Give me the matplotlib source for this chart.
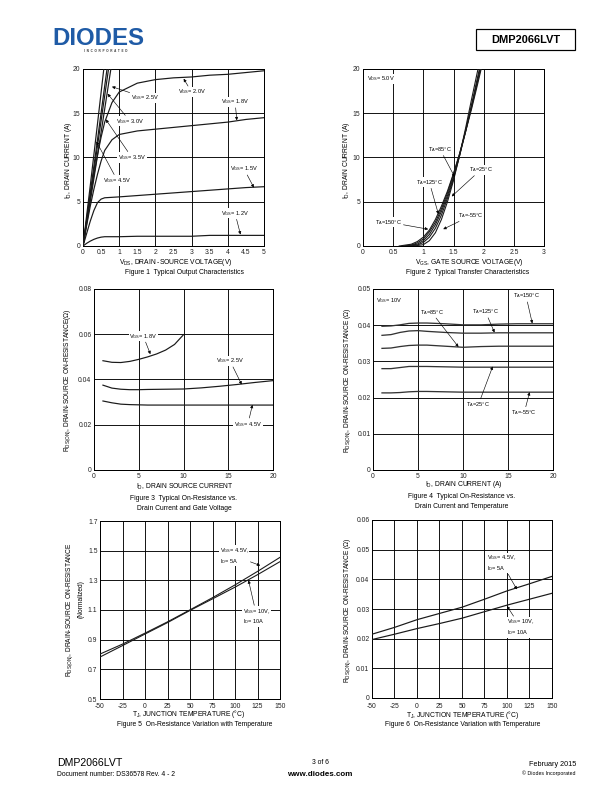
import matplotlib
matplotlib.use('Agg')
import matplotlib.pyplot as plt
from matplotlib.patches import Rectangle

plt.rcParams['font.family'] = ['Liberation Sans', 'DejaVu Sans']
plt.rcParams['mathtext.fontset'] = 'custom'
plt.rcParams['mathtext.rm'] = 'Liberation Sans'
plt.rcParams['mathtext.it'] = 'Liberation Sans'
plt.rcParams['mathtext.bf'] = 'Liberation Sans:bold'
plt.rcParams['mathtext.default'] = 'regular'

# ---------------- DATA ----------------
# Figure 1: output characteristics
vds_sat = [0, 0.1, 0.2, 0.3, 0.4, 0.5, 0.6, 0.8, 1.0, 1.5, 2.0, 2.5, 3.0, 3.5, 4.0, 4.5, 5.0]
id_vgs_1v2 = [0, 0.3, 0.55, 0.75, 0.9, 1.0, 1.05, 1.05, 1.05, 1.1, 1.1, 1.1, 1.1, 1.2, 1.2, 1.2, 1.2]
id_vgs_1v5 = [0, 1.4, 2.8, 4.0, 4.9, 5.3, 5.45, 5.5, 5.55, 5.7, 5.85, 6.0, 6.15, 6.3, 6.45, 6.6, 6.7]
id_vgs_1v8 = [0, 2.3, 4.5, 6.4, 8.1, 9.6, 10.8, 12.0, 12.6, 13.0, 13.2, 13.4, 13.6, 13.8, 14.0, 14.3, 14.5]
id_vgs_2v0 = [0, 2.8, 5.5, 8.0, 10.3, 12.3, 14.0, 16.2, 17.4, 18.4, 18.8, 19.0, 19.1, 19.3, 19.4, 19.6, 19.8]
vds_lin = [0, 0.2, 0.4, 0.6, 0.8]
id_vgs_2v5 = [0, 5.0, 10.2, 15.5, 20.8]
id_vgs_3v0 = [0, 5.6, 11.3, 17.0, 22.7]
id_vgs_3v5 = [0, 6.0, 12.0, 18.1, 24.1]
id_vgs_4v5 = [0, 6.8, 13.8, 20.9, 28.0]

# Figure 2: transfer characteristics
vgs_m55 = [0.85, 1.0, 1.1, 1.2, 1.3, 1.4, 1.5, 1.6, 1.7, 1.8, 1.9, 1.95]
id_m55 = [0, 0.15, 0.6, 1.5, 3.0, 5.0, 7.4, 10.2, 13.3, 16.6, 19.8, 21.5]
vgs_25 = [0.75, 0.9, 1.0, 1.1, 1.2, 1.3, 1.4, 1.5, 1.6, 1.7, 1.8, 1.9, 2.0]
id_25 = [0, 0.1, 0.4, 1.0, 2.0, 3.5, 5.4, 7.6, 10.2, 13.0, 16.0, 19.1, 22.2]
vgs_85 = [0.7, 0.9, 1.0, 1.1, 1.2, 1.3, 1.4, 1.5, 1.6, 1.7, 1.8, 1.9, 2.0]
id_85 = [0, 0.2, 0.6, 1.3, 2.4, 3.9, 5.7, 7.8, 10.2, 12.9, 15.8, 18.8, 21.8]
vgs_125 = [0.65, 0.8, 0.9, 1.0, 1.1, 1.2, 1.3, 1.4, 1.5, 1.6, 1.7, 1.8, 1.9, 2.0]
id_125 = [0, 0.1, 0.35, 0.8, 1.6, 2.7, 4.2, 6.0, 8.1, 10.4, 13.0, 15.7, 18.6, 21.5]
vgs_150 = [0.6, 0.8, 0.9, 1.0, 1.1, 1.2, 1.3, 1.4, 1.5, 1.6, 1.7, 1.8, 1.9, 2.0, 2.05]
id_150 = [0, 0.2, 0.5, 1.0, 1.8, 3.0, 4.5, 6.2, 8.2, 10.4, 12.9, 15.5, 18.3, 21.2, 22.7]

# Figure 3: on-resistance vs drain current and gate voltage
id3_18 = [1, 2, 3, 4, 5, 6, 7, 8, 9, 10]
rds_18 = [0.0483, 0.0476, 0.0475, 0.0480, 0.0489, 0.0500, 0.0513, 0.0530, 0.0555, 0.0598]
id3 = [1, 2, 3, 4, 5, 6, 8, 10, 12, 14, 16, 18, 20]
rds_25 = [0.0375, 0.0362, 0.0357, 0.0355, 0.0355, 0.0356, 0.0357, 0.0358, 0.0363, 0.0370, 0.0378, 0.0387, 0.0395]
rds_45 = [0.0305, 0.0297, 0.0291, 0.0289, 0.0288, 0.0287, 0.0287, 0.0287, 0.0287, 0.0287, 0.0287, 0.0287, 0.0287]

# Figure 4: on-resistance vs drain current and temperature
id4 = [1, 2, 3, 4, 5, 6, 8, 10, 12, 14, 16, 18, 20]
r4_150 = [0.0397, 0.0398, 0.0401, 0.0405, 0.0406, 0.0406, 0.0404, 0.0401, 0.0401, 0.0403, 0.0404, 0.0404, 0.0404]
r4_125 = [0.0372, 0.0374, 0.0380, 0.0384, 0.0385, 0.0383, 0.0380, 0.0378, 0.0378, 0.0379, 0.0379, 0.0379, 0.0379]
r4_85 = [0.0336, 0.0337, 0.0341, 0.0344, 0.0345, 0.0345, 0.0342, 0.0339, 0.0341, 0.0342, 0.0342, 0.0342, 0.0342]
r4_25 = [0.0280, 0.0280, 0.0283, 0.0286, 0.0286, 0.0286, 0.0285, 0.0284, 0.0284, 0.0284, 0.0284, 0.0284, 0.0284]
r4_m55 = [0.0213, 0.0213, 0.0214, 0.0216, 0.0217, 0.0217, 0.0216, 0.0215, 0.0215, 0.0215, 0.0215, 0.0215, 0.0215]

# Figure 5 / 6: vs junction temperature
tj = [-50, -25, 0, 25, 50, 75, 100, 125, 150]
rn_45 = [0.803, 0.870, 0.944, 1.020, 1.101, 1.183, 1.269, 1.360, 1.455]
rn_10 = [0.783, 0.860, 0.938, 1.015, 1.097, 1.175, 1.254, 1.338, 1.426]
r6_45 = [0.0215, 0.0238, 0.0264, 0.0285, 0.0306, 0.0333, 0.0361, 0.0385, 0.0410]
r6_10 = [0.0197, 0.0215, 0.0234, 0.0251, 0.0269, 0.0291, 0.0313, 0.0333, 0.0353]

# Tick labels
f1_xt = [0, 0.5, 1, 1.5, 2, 2.5, 3, 3.5, 4, 4.5, 5]
f1_xl = ['0', '0.5', '1', '1.5', '2', '2.5', '3', '3.5', '4', '4.5', '5']
f1_yt = [0, 5, 10, 15, 20]
f2_xt = [0, 0.5, 1, 1.5, 2, 2.5, 3]
f2_xl = ['0', '0.5', '1', '1.5', '2', '2.5', '3']
f3_xt = [0, 5, 10, 15, 20]
f3_yt = [0, 0.02, 0.04, 0.06, 0.08]
f3_yl = ['0', '0.02', '0.04', '0.06', '0.08']
f4_yt = [0, 0.01, 0.02, 0.03, 0.04, 0.05]
f4_yl = ['0', '0.01', '0.02', '0.03', '0.04', '0.05']
f5_xt = [-50, -25, 0, 25, 50, 75, 100, 125, 150]
f5_yt = [0.5, 0.7, 0.9, 1.1, 1.3, 1.5, 1.7]
f5_yl = ['0.5', '0.7', '0.9', '1.1', '1.3', '1.5', '1.7']
f6_yt = [0, 0.01, 0.02, 0.03, 0.04, 0.05, 0.06]
f6_yl = ['0', '0.01', '0.02', '0.03', '0.04', '0.05', '0.06']

# ---------------- FIGURE ----------------
W, H = 612, 792
fig = plt.figure(figsize=(W / 72, H / 72), dpi=72)

LC = '#1a1a1a'
TS = 6.8   # tick size
AS = 5.6   # annotation size


def fx(x):
    return x / W


def fy(y):
    return 1 - y / H


def make_ax(l, t, r, b, xlim, ylim, xt, xl, yt, yl, gx, gy, xpad=2.5):
    ax = fig.add_axes([l / W, 1 - b / H, (r - l) / W, (b - t) / H])
    ax.set_xlim(*xlim)
    ax.set_ylim(*ylim)
    ax.set_xticks(xt)
    ax.set_xticklabels(xl)
    ax.set_yticks(yt)
    ax.set_yticklabels(yl)
    ax.tick_params(length=0, labelsize=TS, pad=2.5, colors='#222222')
    ax.tick_params(axis='x', pad=xpad)
    for g in gx:
        ax.axvline(g, color='black', lw=0.9, zorder=1)
    for g in gy:
        ax.axhline(g, color='black', lw=0.9, zorder=1)
    for s in ax.spines.values():
        s.set_linewidth(1.0)
        s.set_color('black')
    return ax


def ann(ax, txt, xytext, xy, ha='center'):
    ax.annotate(txt, xy=xy, xytext=xytext, fontsize=AS, ha=ha, va='center',
                zorder=5, linespacing=1.3,
                bbox=dict(fc='white', ec='none', pad=0.6),
                arrowprops=dict(arrowstyle='-|>', color='black', lw=0.6,
                                mutation_scale=6, shrinkA=1, shrinkB=0))


def txt(x, y, s, **kw):
    fig.text(fx(x), fy(y), s, **kw)


# ---- Figure 1
ax1 = make_ax(83, 69, 264, 246, (0, 5), (0, 20), f1_xt, f1_xl, f1_yt,
              [str(v) for v in f1_yt], [1, 2, 3, 4], [5, 10, 15])
for y in [id_vgs_1v2, id_vgs_1v5, id_vgs_1v8, id_vgs_2v0]:
    ax1.plot(vds_sat, y, color=LC, lw=1.2, zorder=3)
for y in [id_vgs_2v5, id_vgs_3v0, id_vgs_3v5, id_vgs_4v5]:
    ax1.plot(vds_lin, y, color=LC, lw=1.2, zorder=3)
ann(ax1, 'V$_{GS}$= 2.5V', (1.72, 16.75), (0.80, 18.0))
ann(ax1, 'V$_{GS}$= 3.0V', (1.30, 14.1), (0.68, 17.2))
ann(ax1, 'V$_{GS}$= 3.5V', (1.35, 10.0), (0.63, 14.3))
ann(ax1, 'V$_{GS}$= 4.5V', (0.95, 7.4), (0.37, 11.8))
ann(ax1, 'V$_{GS}$= 2.0V', (3.0, 17.4), (2.78, 18.9))
ann(ax1, 'V$_{GS}$= 1.8V', (4.2, 16.3), (4.25, 14.2))
ann(ax1, 'V$_{GS}$= 1.5V', (4.45, 8.7), (4.72, 6.6))
ann(ax1, 'V$_{GS}$= 1.2V', (4.2, 3.7), (4.35, 1.3))
txt(68, 160, 'I$_D$, DRAIN CURRENT (A)', rotation=90, fontsize=6.8,
    ha='center', va='center')
txt(176, 263, 'V$_{DS}$, DRAIN -SOURCE VOLTAGE(V)', fontsize=6.8, ha='center', va='center')
txt(184, 273, 'Figure 1  Typical Output Characteristics', fontsize=6.8, ha='center', va='center')

# ---- Figure 2
ax2 = make_ax(363, 69, 544, 246, (0, 3), (0, 20), f2_xt, f2_xl, f1_yt,
              [str(v) for v in f1_yt], [0.5, 1, 1.5, 2, 2.5], [5, 10, 15])
for vx, iy in [(vgs_m55, id_m55), (vgs_25, id_25), (vgs_85, id_85),
               (vgs_125, id_125), (vgs_150, id_150)]:
    ax2.plot(vx, iy, color=LC, lw=1.1, zorder=3)
ax2.text(0.07, 18.9, 'V$_{DS}$= 5.0V', fontsize=AS, ha='left', va='center', zorder=5,
         bbox=dict(fc='white', ec='none', pad=0.6))
ann(ax2, 'T$_A$=85°C', (1.28, 10.9), (1.52, 7.8))
ann(ax2, 'T$_A$=25°C', (1.95, 8.6), (1.47, 5.6))
ann(ax2, 'T$_A$=125°C', (1.10, 7.2), (1.25, 3.6))
ann(ax2, 'T$_A$=150°C', (0.42, 2.7), (1.08, 1.9))
ann(ax2, 'T$_A$=-55°C', (1.78, 3.4), (1.33, 1.9))
txt(347, 160, 'I$_D$, DRAIN CURRENT (A)', rotation=90, fontsize=6.8,
    ha='center', va='center')
txt(469, 263, 'V$_{GS}$, GATE SOURCE VOLTAGE(V)', fontsize=6.8, ha='center', va='center')
txt(468, 273, 'Figure 2  Typical Transfer Characteristics', fontsize=6.8, ha='center', va='center')

# ---- Figure 3
ax3 = make_ax(94, 289, 273, 470, (0, 20), (0, 0.08), f3_xt,
              [str(v) for v in f3_xt], f3_yt, f3_yl, [5, 10, 15], [0.02, 0.04, 0.06])
ax3.plot(id3_18, rds_18, color=LC, lw=1.2, zorder=3)
ax3.plot(id3, rds_25, color=LC, lw=1.2, zorder=3)
ax3.plot(id3, rds_45, color=LC, lw=1.2, zorder=3)
ann(ax3, 'V$_{GS}$= 1.8V', (5.5, 0.0592), (6.3, 0.0512))
ann(ax3, 'V$_{GS}$= 2.5V', (15.2, 0.0482), (16.5, 0.0378))
ann(ax3, 'V$_{GS}$= 4.5V', (17.2, 0.0203), (17.7, 0.0288))
txt(68, 380, 'R$_{DS(ON)}$, DRAIN-SOURCE ON-RESISTANCE(Ω)', rotation=90, fontsize=6.6,
    ha='center', va='center')
txt(185, 487, 'I$_D$, DRAIN SOURCE CURRENT', fontsize=6.8, ha='center', va='center')
txt(184, 498, 'Figure 3  Typical On-Resistance vs.', fontsize=6.8, ha='center', va='center')
txt(184, 508, 'Drain Current and Gate Voltage', fontsize=6.8, ha='center', va='center')

# ---- Figure 4
ax4 = make_ax(373, 289, 553, 470, (0, 20), (0, 0.05), f3_xt,
              [str(v) for v in f3_xt], f4_yt, f4_yl, [5, 10, 15],
              [0.01, 0.02, 0.03, 0.04])
for r in [r4_150, r4_125, r4_85, r4_25, r4_m55]:
    ax4.plot(id4, r, color='#333333', lw=1.3, zorder=3)
ax4.text(0.35, 0.0468, 'V$_{GS}$= 10V', fontsize=AS, ha='left', va='center', zorder=5,
         bbox=dict(fc='white', ec='none', pad=0.6))
ann(ax4, 'T$_A$=85°C', (6.5, 0.0436), (9.5, 0.0340))
ann(ax4, 'T$_A$=125°C', (12.5, 0.0437), (13.5, 0.0380))
ann(ax4, 'T$_A$=150°C', (17.0, 0.0481), (17.7, 0.0405))
ann(ax4, 'T$_A$=25°C', (11.7, 0.0180), (13.3, 0.0286))
ann(ax4, 'T$_A$=-55°C', (16.8, 0.0158), (17.4, 0.0215))
txt(348, 380, 'R$_{DS(ON)}$, DRAIN-SOURCE ON-RESISTANCE (Ω)', rotation=90, fontsize=6.6,
    ha='center', va='center')
txt(464, 484, 'I$_D$, DRAIN CURRENT (A)', fontsize=6.8, ha='center', va='center')
txt(462, 496, 'Figure 4  Typical On-Resistance vs.', fontsize=6.8, ha='center', va='center')
txt(462, 507, 'Drain Current and Temperature', fontsize=6.8, ha='center', va='center')

# ---- Figure 5
ax5 = make_ax(100, 521, 280, 699, (-50, 150), (0.5, 1.7), f5_xt,
              [str(v) for v in f5_xt], f5_yt, f5_yl,
              [-25, 0, 25, 50, 75, 100, 125], [0.7, 0.9, 1.1, 1.3, 1.5], xpad=3.5)
ax5.plot(tj, rn_45, color=LC, lw=1.1, zorder=3)
ax5.plot(tj, rn_10, color=LC, lw=1.1, zorder=3)
ann(ax5, 'V$_{GS}$= 4.5V,\nI$_D$= 5A', (83, 1.465), (128, 1.40), ha='left')
ann(ax5, 'V$_{GS}$= 10V,\nI$_D$= 10A', (109, 1.055), (115, 1.30), ha='left')
txt(70, 610, 'R$_{DS(ON)}$, DRAIN-SOURCE ON-RESISTANCE', rotation=90, fontsize=6.6,
    ha='center', va='center')
txt(81, 599, '(Normalized)', rotation=90, fontsize=6.6, ha='center', va='center')
txt(189, 714, 'T$_J$, JUNCTION TEMPERATURE (°C)', fontsize=6.8, ha='center', va='center')
txt(195, 724, 'Figure 5  On-Resistance Variation with Temperature', fontsize=6.8,
    ha='center', va='center')

# ---- Figure 6
ax6 = make_ax(372, 520, 552, 698, (-50, 150), (0, 0.06), f5_xt,
              [str(v) for v in f5_xt], f6_yt, f6_yl,
              [-25, 0, 25, 50, 75, 100, 125], [0.01, 0.02, 0.03, 0.04, 0.05], xpad=4.5)
ax6.plot(tj, r6_45, color=LC, lw=1.2, zorder=3)
ax6.plot(tj, r6_10, color=LC, lw=1.2, zorder=3)
ann(ax6, 'V$_{GS}$= 4.5V,\nI$_D$= 5A', (78, 0.0455), (111, 0.0366), ha='left')
ann(ax6, 'V$_{GS}$= 10V,\nI$_D$= 10A', (100, 0.0238), (100, 0.0310), ha='left')
txt(348, 610, 'R$_{DS(ON)}$, DRAIN-SOURCE ON-RESISTANCE (Ω)', rotation=90, fontsize=6.6,
    ha='center', va='center')
txt(463, 715, 'T$_J$, JUNCTION TEMPERATURE (°C)', fontsize=6.8, ha='center', va='center')
txt(463, 725, 'Figure 6  On-Resistance Variation with Temperature', fontsize=6.8,
    ha='center', va='center')

# ---- Header
txt(52, 45, 'DIODES', fontsize=24, fontweight='bold', color='#1f5ba6',
    ha='left', va='baseline')
txt(106, 50.5, 'I  N  C  O  R  P  O  R  A  T  E  D', fontsize=3.0, color='#333333',
    ha='center', va='center', fontweight='bold')
fig.patches.append(Rectangle((fx(476), fy(50)), (575 - 476) / W, 21 / H,
                             transform=fig.transFigure, fill=False, ec='black', lw=1.2))
txt(525.5, 40, 'DMP2066LVT', fontsize=11, fontweight='bold', ha='center', va='center')

# ---- Footer
txt(57, 763, 'DMP2066LVT', fontsize=10.5, ha='left', va='center')
txt(57, 774, 'Document number: DS36578 Rev. 4 - 2', fontsize=6.8, ha='left', va='center')
txt(320.5, 763, '3 of 6', fontsize=6.8, ha='center', va='center')
txt(320, 774, 'www.diodes.com', fontsize=8, fontweight='bold', ha='center', va='center')
txt(576, 765, 'February 2015', fontsize=7.3, ha='right', va='center')
txt(576, 773, '© Diodes Incorporated', fontsize=5.2, ha='right', va='center')

fig.savefig('out.png', dpi=72)
